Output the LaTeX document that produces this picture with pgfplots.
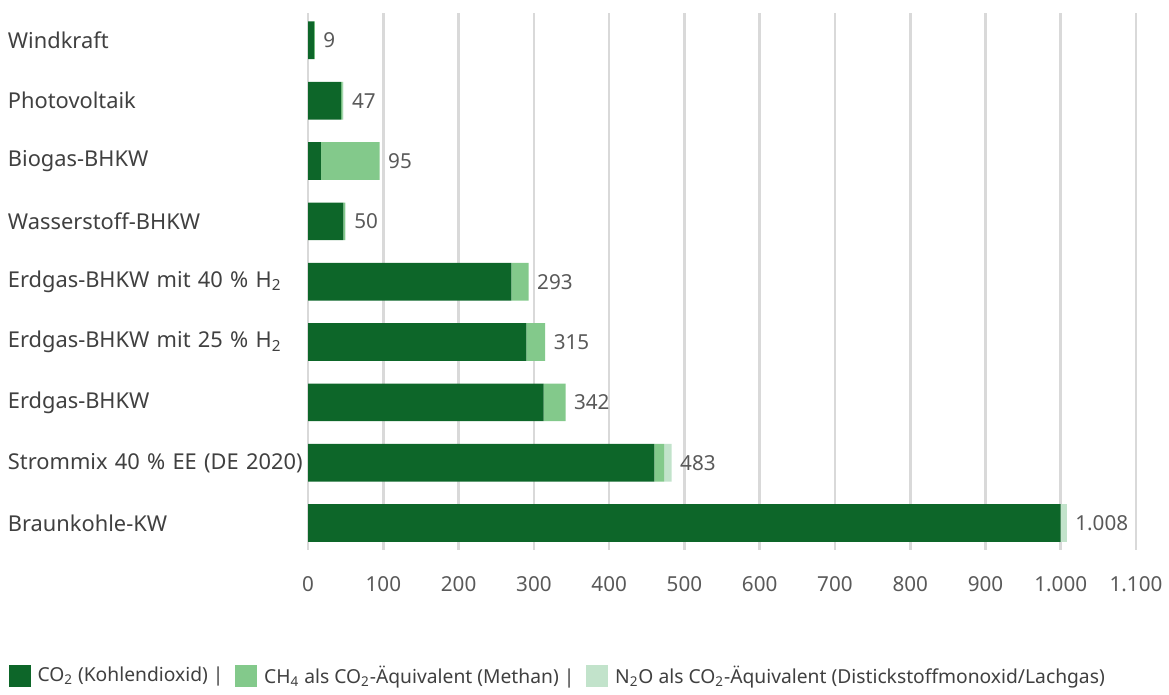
\documentclass[border=0pt]{standalone}
\usepackage{fontspec}
\setmainfont{Noto Sans}
\usepackage{pgfplots}
\usepackage{pgfplotstable}
\pgfplotsset{compat=1.18}

\definecolor{co2}{HTML}{0D6629}
\definecolor{ch4}{HTML}{83C98B}
\definecolor{n2o}{HTML}{C2E3CB}
\definecolor{gridgray}{HTML}{D9D9D9}
\definecolor{txt}{HTML}{404040}
\definecolor{numgray}{HTML}{595959}

% g CO2-eq per kWh, rows top to bottom; pad = invisible carrier for the total label
\pgfplotstableread{
y co2  ch4 n2o pad  total
0 8    1   0   0.01 9
1 44   2   1   0.01 47
2 17   78  0   0.01 95
3 47   2   1   0.01 50
4 270  23  0   0.01 293
5 290  25  0   0.01 315
6 313  29  0   0.01 342
7 460  13  10  0.01 483
8 1000 0   8   0.01 1008
}\emissions

\begin{document}
\begin{tikzpicture}
\begin{axis}[
    scale only axis,
    width=417pt, height=270.5pt,
    xbar stacked, bar width=19pt,
    xmin=0, xmax=1100,
    ymin=-0.45, ymax=8.45, y dir=reverse,
    xtick={0,100,...,1100},
    ytick={0,...,8},
    yticklabels={Windkraft, Photovoltaik, Biogas-BHKW, Wasserstoff-BHKW,
        Erdgas-BHKW mit 40 \% H\textsubscript{2}, Erdgas-BHKW mit 25 \% H\textsubscript{2},
        Erdgas-BHKW, Strommix 40 \% EE (DE 2020), Braunkohle-KW},
    yticklabel style={font=\fontsize{11}{13}\selectfont, text=txt, inner sep=0pt,
        text width=151pt, align=left, anchor=east},
    xticklabel style={font=\fontsize{10.4}{12}\selectfont, text=numgray, yshift=-9.5pt},
    /pgf/number format/1000 sep={.},
    /pgf/number format/assume math mode=true,
    axis line style={draw=none},
    tick style={draw=none},
    xmajorgrids, major x grid style={draw=gridgray, line width=1.3pt},
    legend columns=-1,
    legend style={at={(axis description cs:0,0)}, anchor=north west,
        xshift=-151pt, yshift=-56pt, draw=none, inner sep=0pt,
        font=\fontsize{9.7}{12}\selectfont, text=txt,
        /tikz/every odd column/.append style={column sep=1.5pt},
        /tikz/every even column/.append style={column sep=4pt}},
    legend image code/.code={\fill[#1] (0pt,-5.5pt) rectangle (11pt,5.5pt);},
]
\addplot[fill=co2, draw=none] table[x=co2, y=y] {\emissions};
\addplot[fill=ch4, draw=none] table[x=ch4, y=y] {\emissions};
\addplot[fill=n2o, draw=none] table[x=n2o, y=y] {\emissions};
\addplot[draw=none, fill=none,
    nodes near coords, point meta=explicit,
    nodes near coords style={anchor=west, xshift=0.8pt, text=numgray,
        font=\fontsize{10.4}{12}\selectfont}]
    table[x=pad, y=y, meta=total] {\emissions};
\legend{CO\textsubscript{2} (Kohlendioxid) |,
    CH\textsubscript{4} als CO\textsubscript{2}-Äquivalent (Methan) |,
    N\textsubscript{2}O als CO\textsubscript{2}-Äquivalent (Distickstoffmonoxid/Lachgas)}
\end{axis}
\path (current bounding box.south west) ++(-4pt,-2pt);
\path (current bounding box.north east) ++(0pt,6pt);
\end{tikzpicture}
\end{document}
